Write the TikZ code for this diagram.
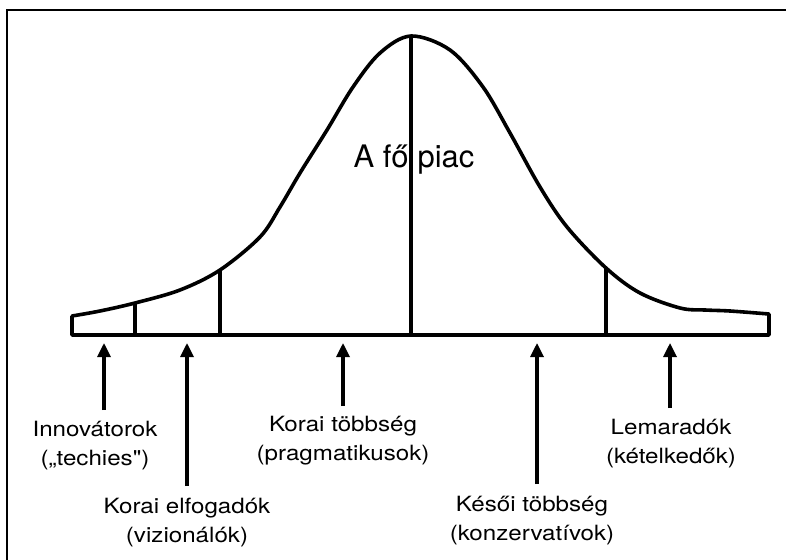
\documentclass[tikz,border=0pt]{standalone}
\usepackage{fontspec}
\setmainfont{TeX Gyre Heros}
\newfontfamily\lblfont{TeX Gyre Heros}[FakeStretch=1.15]
\usetikzlibrary{arrows.meta}
\tikzset{
  curve/.style={line width=3.6pt, line join=round, line cap=round},
  baseln/.style={line width=3.4pt, line join=round},
  tick/.style={line width=3.4pt},
  uparrow/.style={line width=3.2pt, -{Triangle[width=13pt,length=14pt]}},
  lbl/.style={font=\lblfont\fontsize{21}{29}\selectfont, align=center, inner sep=0pt, anchor=base},
  frame/.style={line width=1.4pt}
}
\begin{document}
\begin{tikzpicture}[x=1pt,y=-1pt]
\useasboundingbox (0,0) rectangle (786,559);
% frame (open on right and bottom)
\draw[frame] (7,570) -- (7,10) -- (800,10);
% named points
\coordinate (bl) at (72,335);
\coordinate (br) at (769,335);
\coordinate (cl) at (72,316);
\coordinate (cr) at (769,314);
\coordinate (t1) at (135,303);
\coordinate (t2) at (220,270);
\coordinate (pk) at (411,36);
\coordinate (t3) at (606,268);
% curve
\draw[curve] plot[smooth, tension=0.55] coordinates {
 (72,316) (100,311) (135,303) (180,290) (220,270) (260,237) (280,207)
 (300,173) (327,130) (353,87) (380,53) (411,36) (450,50) (483,87)
 (510,133) (540,187) (567,227) (606,268) (640,293) (680,308) (705,310)
 (730,311) (769,314)};
% base with end caps
\draw[baseln] (cl) -- (bl) -- (br) -- (cr);
% ticks
\draw[tick] (t1) -- (t1 |- bl);
\draw[tick] (t2) -- (t2 |- bl);
\draw[tick] (pk) -- (pk |- bl);
\draw[tick] (t3) -- (t3 |- bl);
% main label
\node[font=\fontsize{31}{35}\selectfont, inner sep=0pt, anchor=base] (main) at (414,167) {A fő\hspace{9pt}piac};
% labels (base = baseline of the last line)
\node[lbl] (l1) at (95,465) {Innovátorok\\(„techies")};
\node[lbl] (l2) at (187,542) {Korai elfogadók\\(vizionálók)};
\node[lbl] (l3) at (343,460) {Korai többség\\(pragmatikusok)};
\node[lbl] (l4) at (532,540) {Késői többség\\(konzervatívok)};
\node[lbl] (l5) at (671,463) {Lemaradók\\(kételkedők)};
% arrow ends
\coordinate (a1) at (104,343);
\coordinate (a2) at (187,343);
\coordinate (a3) at (343,343);
\coordinate (a4) at (537,343);
\coordinate (a5) at (670,343);
\coordinate (s1) at (104,410);
\coordinate (s2) at (187,486);
\coordinate (s3) at (343,406);
\coordinate (s4) at (537,484);
\coordinate (s5) at (670,408);
% arrows
\draw[uparrow] (s1) -- (a1);
\draw[uparrow] (s2) -- (a2);
\draw[uparrow] (s3) -- (a3);
\draw[uparrow] (s4) -- (a4);
\draw[uparrow] (s5) -- (a5);
\end{tikzpicture}
\end{document}
